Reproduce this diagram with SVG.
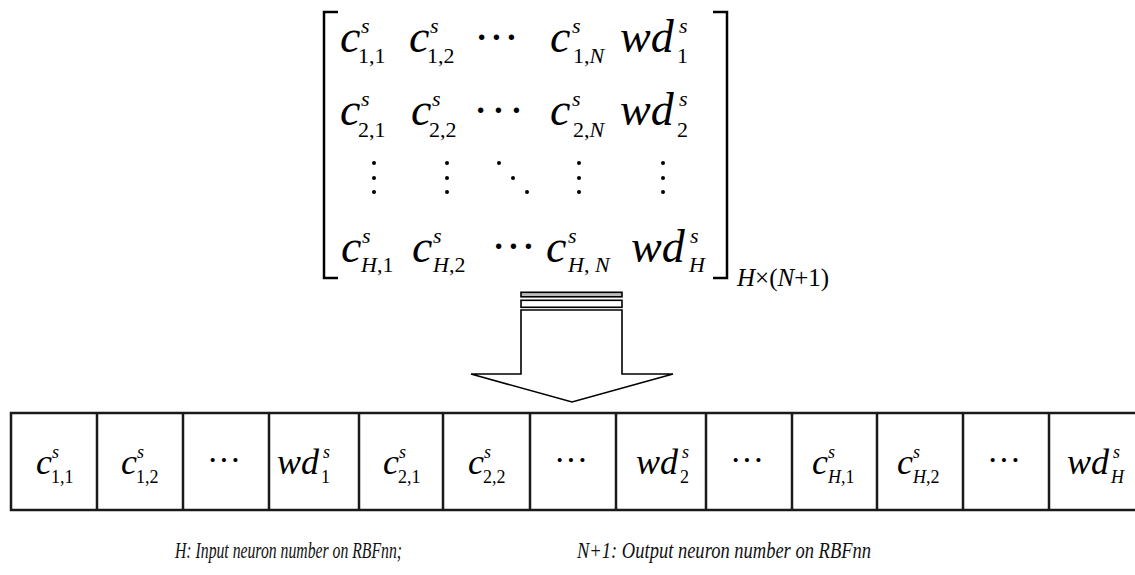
<svg xmlns="http://www.w3.org/2000/svg" width="1135" height="575" viewBox="0 0 1135 575">
<style>
.b{font-family:"Liberation Serif","Times New Roman",serif;font-style:italic;fill:#000}
.m{font-size:46px}
.ms{font-size:22px}
.cb{font-size:36px}
.cs{font-size:18px}
.up{font-style:normal}
.dots{font-family:"Liberation Serif","Times New Roman",serif;fill:#000}
.ln{stroke:#000;stroke-width:2.5;fill:none}
.cell{stroke:#1a1a1a;stroke-width:2.5;fill:none}
.ar{stroke:#000;stroke-width:1.6;fill:#fff;stroke-linejoin:miter}
.note{font-family:"Liberation Serif","Times New Roman",serif;font-style:italic;font-size:23px;fill:#111}
</style>

<g id="matrix">
  <path class="ln" d="M338 12 H324 V278 H338"/>
  <path class="ln" d="M713 12 H727 V278 H713"/>
  <!-- row 1 -->
  <g class="b">
    <text class="m" x="340" y="52">c</text><text class="ms" x="361" y="33">s</text><text class="ms up" x="358" y="63">1,1</text>
    <text class="m" x="409" y="52">c</text><text class="ms" x="430" y="33">s</text><text class="ms up" x="427" y="63">1,2</text>
    <text class="m" x="550" y="52">c</text><text class="ms" x="572" y="33">s</text><text class="ms" x="573" y="63"><tspan class="up">1,</tspan>N</text>
    <text class="m" x="620" y="52">wd</text><text class="ms" x="679" y="33">s</text><text class="ms up" x="677" y="63">1</text>
  </g>
  <text class="dots" x="474" y="53" font-size="46" letter-spacing="-0.5">···</text>
  <!-- row 2 -->
  <g class="b">
    <text class="m" x="340" y="125">c</text><text class="ms" x="361" y="106">s</text><text class="ms up" x="358" y="137">2,1</text>
    <text class="m" x="411" y="125">c</text><text class="ms" x="432" y="106">s</text><text class="ms up" x="429" y="137">2,2</text>
    <text class="m" x="550" y="125">c</text><text class="ms" x="572" y="106">s</text><text class="ms" x="573" y="137"><tspan class="up">2,</tspan>N</text>
    <text class="m" x="620" y="125">wd</text><text class="ms" x="679" y="106">s</text><text class="ms up" x="677" y="137">2</text>
  </g>
  <text class="dots" x="473" y="126" font-size="46" letter-spacing="2.5">···</text>
  <!-- vertical / diagonal dots -->
  <g fill="#000">
    <circle cx="374" cy="163" r="2"/><circle cx="374" cy="178" r="2"/><circle cx="374" cy="192" r="2"/>
    <circle cx="447" cy="163" r="2"/><circle cx="447" cy="178" r="2"/><circle cx="447" cy="192" r="2"/>
    <circle cx="499" cy="163" r="2"/><circle cx="513" cy="178" r="2"/><circle cx="527" cy="192" r="2"/>
    <circle cx="579" cy="163" r="2"/><circle cx="579" cy="178" r="2"/><circle cx="579" cy="192" r="2"/>
    <circle cx="663" cy="163" r="2"/><circle cx="663" cy="178" r="2"/><circle cx="663" cy="192" r="2"/>
  </g>
  <!-- row H -->
  <g class="b">
    <text class="m" x="341" y="262">c</text><text class="ms" x="362" y="243">s</text><text class="ms" x="361" y="272">H<tspan class="up">,1</tspan></text>
    <text class="m" x="412" y="262">c</text><text class="ms" x="433" y="243">s</text><text class="ms" x="433" y="272">H<tspan class="up">,2</tspan></text>
    <text class="m" x="546" y="262">c</text><text class="ms" x="568" y="243">s</text><text class="ms" x="568" y="272">H<tspan class="up">, </tspan>N</text>
    <text class="m" x="631" y="262">wd</text><text class="ms" x="690" y="243">s</text><text class="ms" x="689" y="272">H</text>
    <text x="737" y="286" style="font-size:25px">H<tspan class="up">×(</tspan>N<tspan class="up">+1)</tspan></text>
  </g>
  <text class="dots" x="491" y="262" font-size="46" letter-spacing="-0.5">···</text>
</g>

<g id="arrow">
  <rect class="ar" x="521" y="292.3" width="101" height="4.5" style="fill:#bbb"/>
  <rect class="ar" x="521" y="300.3" width="101" height="7"/>
  <polygon class="ar" points="521,310 622,310 622,374 673,374 572,402 471,374 521,374"/>
</g>

<g id="vector">
  <path class="cell" d="M1135 413 H11 V510 H1135"/>
  <path class="cell" d="M97 413V510M183 413V510M269 413V510M359 413V510M443 413V510M530 413V510M616 413V510M706 413V510M792 413V510M877 413V510M963 413V510M1049 413V510"/>
  <g class="b">
    <text class="cb" x="36" y="474">c</text><text class="cs" x="52" y="458">s</text><text class="cs up" x="51" y="483">1,1</text>
    <text class="cb" x="121" y="474">c</text><text class="cs" x="137" y="458">s</text><text class="cs up" x="136" y="483">1,2</text>
    <text class="cb" x="277" y="474">wd</text><text class="cs" x="323" y="458">s</text><text class="cs up" x="321" y="483">1</text>
    <text class="cb" x="383" y="474">c</text><text class="cs" x="399" y="458">s</text><text class="cs up" x="398" y="483">2,1</text>
    <text class="cb" x="468" y="474">c</text><text class="cs" x="484" y="458">s</text><text class="cs up" x="483" y="483">2,2</text>
    <text class="cb" x="636" y="474">wd</text><text class="cs" x="682" y="458">s</text><text class="cs up" x="680" y="483">2</text>
    <text class="cb" x="812" y="474">c</text><text class="cs" x="828" y="458">s</text><text class="cs" x="828" y="483">H<tspan class="up">,1</tspan></text>
    <text class="cb" x="897" y="474">c</text><text class="cs" x="913" y="458">s</text><text class="cs" x="913" y="483">H<tspan class="up">,2</tspan></text>
    <text class="cb" x="1067" y="474">wd</text><text class="cs" x="1113" y="458">s</text><text class="cs" x="1111" y="483">H</text>
  </g>
  <g class="dots" font-size="34" letter-spacing="0">
    <text x="207" y="471">···</text>
    <text x="554" y="471">···</text>
    <text x="730" y="471">···</text>
    <text x="987" y="471">···</text>
  </g>
</g>

<g id="notes">
  <text class="note" x="175" y="558" textLength="227" lengthAdjust="spacingAndGlyphs">H: Input neuron number on RBFnn;</text>
  <text class="note" x="577" y="558" textLength="294" lengthAdjust="spacingAndGlyphs">N+1: Output neuron number on RBFnn</text>
</g>
</svg>
